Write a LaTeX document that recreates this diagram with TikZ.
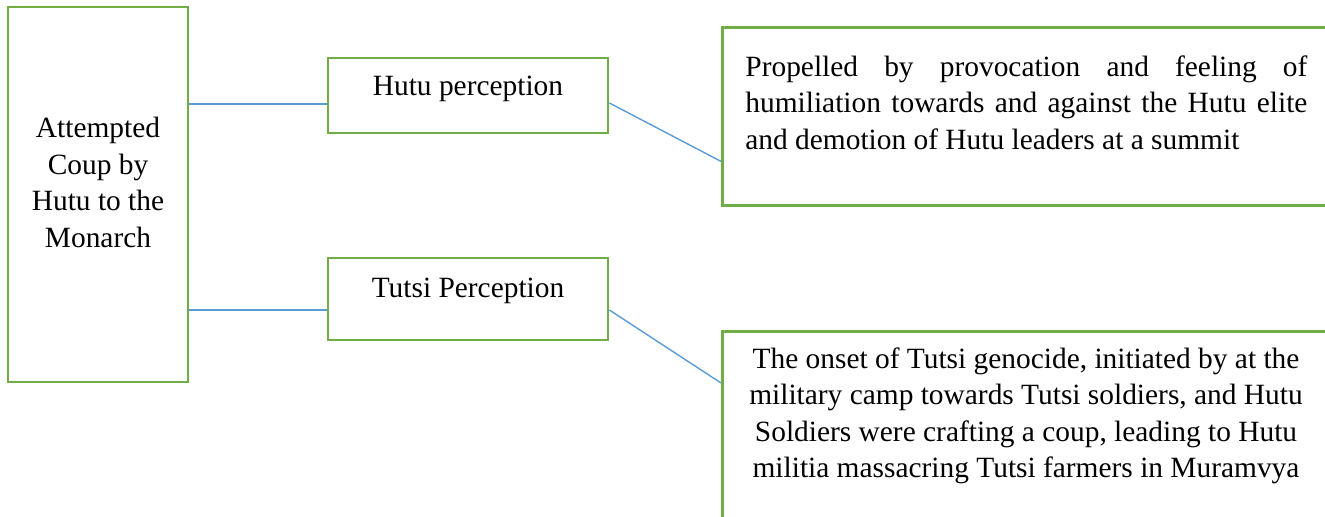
\documentclass[tikz,border=0pt]{standalone}
\usepackage{fontspec}
\setmainfont{Liberation Serif}
\usetikzlibrary{positioning, calc}
\definecolor{boxgreen}{HTML}{70AD47}
\definecolor{linkblue}{HTML}{5B9BD5}
\begin{document}
\begin{tikzpicture}[x=0.5pt, y=-0.5pt, font=\fontsize{14.7}{18.3}\selectfont,
  frame/.style={draw=boxgreen, line width=1.4pt, inner sep=0pt},
  link/.style={draw=linkblue, line width=0.7pt},
  words/.style={inner sep=0pt, align=center}]
\useasboundingbox (0,0) rectangle (1325,517);
\clip (0,0) rectangle (1325,517);
% boxes
\node[frame, minimum width=90pt, minimum height=187.5pt] (coup) at (98,194.5) {};
\node[frame, minimum width=140pt, minimum height=37.5pt] (hutu) at (468,95.5) {};
\node[frame, minimum width=140pt, minimum height=41pt] (tutsi) at (468,299) {};
\node[frame, minimum width=312pt, minimum height=89pt, anchor=north west] (hutuview) at (721,26) {};
\node[frame, minimum width=312pt, minimum height=110pt, anchor=north west] (tutsiview) at (721,330) {};
% texts
\node[words, anchor=north] (couptxt) at (98,117) {Attempted\\Coup by\\Hutu to the\\Monarch};
\node[words, anchor=base] (hututxt) at (468,96) {Hutu perception};
\node[words, anchor=base] (tutsitxt) at (468,298) {Tutsi Perception};
\node[words, anchor=north west, text width=281pt, align=justify] (hutuviewtxt) at (745,55)
  {Propelled by provocation and feeling of\linebreak humiliation towards and against the Hutu elite\linebreak and demotion of Hutu leaders at a summit};
\node[words, anchor=north] (tutsiviewtxt) at (1026,347)
  {The onset of Tutsi genocide, initiated by at the\\military camp towards Tutsi soldiers, and Hutu\\Soldiers were crafting a coup, leading to Hutu\\militia massacring Tutsi farmers in Muramvya};
% links
\coordinate (a1) at ([yshift=-4.25pt]hutu.west);
\coordinate (a2) at ([yshift=-5.5pt]tutsi.west);
\draw[link] (coup.east |- a1) -- (a1);
\draw[link] (coup.east |- a2) -- (a2);
\draw[link] ([yshift=-3.75pt]hutu.east) -- ([yshift=-22.5pt]hutuview.west);
\draw[link] ([yshift=-5.5pt]tutsi.east) -- ([yshift=-26.5pt]tutsiview.north west);
\end{tikzpicture}
\end{document}
